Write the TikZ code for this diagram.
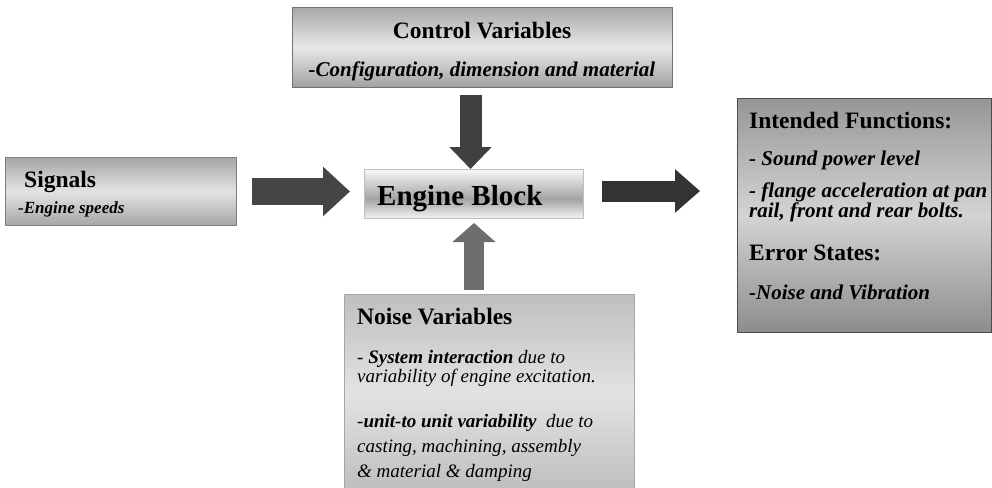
\documentclass[tikz,border=0pt]{standalone}
\usepackage{fontspec}
\setmainfont{Liberation Serif}
\usetikzlibrary{arrows.meta}

% colours of the boxes and arrows
\definecolor{ctrltop}{gray}{0.66}
\definecolor{ctrlmid}{gray}{0.91}
\definecolor{ctrlbot}{gray}{0.63}
\definecolor{ctrlline}{gray}{0.45}
\definecolor{sigtop}{gray}{0.65}
\definecolor{sigmid}{gray}{0.89}
\definecolor{sigbot}{gray}{0.65}
\definecolor{sigline}{gray}{0.5}
\definecolor{engtop}{gray}{0.97}
\definecolor{engmid}{gray}{0.64}
\definecolor{engbot}{gray}{0.96}
\definecolor{engline}{gray}{0.75}
\definecolor{noisetop}{gray}{0.75}
\definecolor{noisemid}{gray}{0.89}
\definecolor{noisebot}{gray}{0.74}
\definecolor{noiseline}{gray}{0.65}
\definecolor{inttop}{gray}{0.59}
\definecolor{intmid}{gray}{0.83}
\definecolor{intbot}{gray}{0.55}
\definecolor{intline}{gray}{0.3}
\definecolor{downarrow}{gray}{0.25}
\definecolor{uparrow}{gray}{0.43}
\definecolor{sigarrow}{gray}{0.27}
\definecolor{outarrow}{gray}{0.2}

\pgfdeclareverticalshading{engshade}{100bp}{color(0bp)=(engbot); color(25bp)=(engbot);
  color(45bp)=(engmid); color(75bp)=(engtop); color(100bp)=(engtop)}

\newcommand\headfont{\fontsize{23.5}{20}\selectfont\bfseries\upshape}
\newcommand\bodyfont{\fontsize{21}{20}\selectfont\bfseries\itshape}

\tikzset{
  box/.style={draw=#1, line width=1pt, anchor=north west, inner sep=0pt},
  boxtext/.style={anchor=base west, align=left, inner sep=0pt},
  blockarrow/.style={line width=#1},
}

\begin{document}
\begin{tikzpicture}[x=1pt,y=1pt]
    \clip (0,0) rectangle (992,-487);

    % boxes
    \node[box=ctrlline, top color=ctrltop, bottom color=ctrlbot, middle color=ctrlmid,
          minimum width=380pt, minimum height=80pt] (ctrl) at (292,-7) {};
    \node[box=sigline, top color=sigtop, bottom color=sigbot, middle color=sigmid,
          minimum width=231pt, minimum height=68pt] (sig) at (5,-157) {};
    \node[box=engline, shade, shading=engshade,
          minimum width=219pt, minimum height=49pt] (eng) at (364,-169) {};
    \node[box=noiseline, top color=noisetop, bottom color=noisebot, middle color=noisemid,
          minimum width=290pt, minimum height=200pt] (noise) at (344,-294) {};
    \node[box=intline, top color=inttop, bottom color=intbot, middle color=intmid,
          minimum width=254pt, minimum height=234pt] (int) at (737,-98) {};

    % texts (anchored at the baseline of their last line)
    \node[align=center, anchor=base, inner sep=0pt, font=\bodyfont] (ctrltxt) at (482,-76)
        {{\headfont Control Variables}\\[18pt]
         -Configuration, dimension and material};
    \node[boxtext, font=\fontsize{17}{26}\selectfont\bfseries\itshape] (sigtxt) at (18,-213)
        {{\headfont\hspace*{6pt}Signals}\\
         -Engine speeds};
    \node[boxtext, font=\fontsize{29}{30}\selectfont\bfseries] (engtxt) at (377,-205) {Engine Block};
    \node[boxtext, font=\bodyfont] (inttxt) at (749,-299)
        {{\headfont Intended Functions:}\\[17pt]
         - Sound power level\\[12pt]
         - flange acceleration at pan\\
         rail, front and rear bolts.\\[21pt]
         {\headfont Error States:}\\[19pt]
         -Noise and Vibration};
    \node[boxtext, font={\fontsize{19}{19}\selectfont\itshape\lineskiplimit=-20pt}] (noisetxt) at (357,-477)
        {{\headfont Noise Variables}\\[20pt]
         - \textbf{System interaction} due to\\
         variability of engine excitation.\\[26pt]
         -\textbf{unit-to unit variability}~ due to\\[6pt]
         casting, machining, assembly\\[6pt]
         \& material \& damping};

    % block arrows
    \coordinate (downx) at ([xshift=-3.5pt]eng.north);
    \draw[blockarrow=22pt, downarrow, -{Triangle[length=22pt, width=41pt]}, shorten <=7pt]
        (downx |- ctrl.south) -- (downx);
    \draw[blockarrow=20pt, uparrow, -{Triangle[length=19pt, width=42pt]}, shorten <=4pt, shorten >=4pt]
        (eng.south |- noise.north) -- (eng.south);
    \draw[blockarrow=27pt, sigarrow, -{Triangle[length=27pt, width=48pt]}, shorten <=15pt, shorten >=14pt]
        (sig.east) -- (eng.west |- sig.east);
    \coordinate (outy) at ([yshift=3pt]eng.east);
    \draw[blockarrow=21pt, outarrow, -{Triangle[length=25pt, width=42pt]}, shorten <=18pt, shorten >=37pt]
        (outy) -- (outy -| int.west);
\end{tikzpicture}
\end{document}
